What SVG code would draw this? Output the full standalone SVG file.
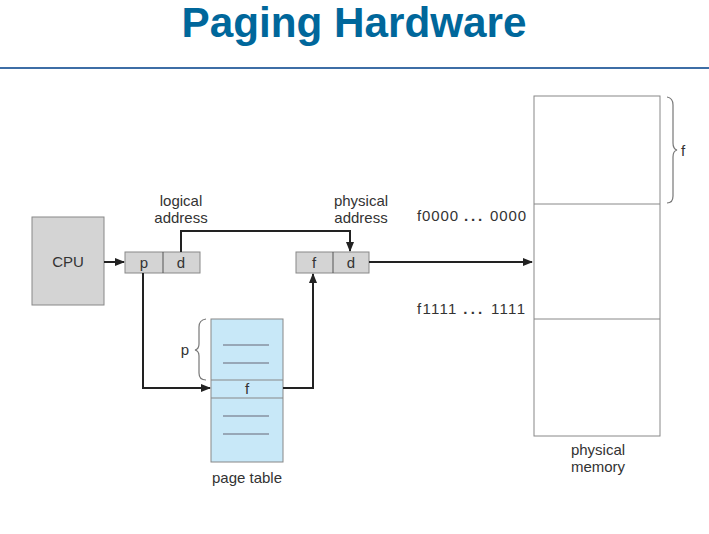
<svg xmlns="http://www.w3.org/2000/svg" width="709" height="534" viewBox="0 0 709 534">
<style>
.t{font-family:"Liberation Sans",Arial,sans-serif;font-size:15px;fill:#333;}
.c{text-anchor:middle;}
.r{text-anchor:end;}
.dots{font-weight:bold;letter-spacing:2px;}
.box{fill:#d4d4d4;stroke:#888;stroke-width:1;}
.pt{fill:#c8e8f8;stroke:#888;stroke-width:1;}
.mem{fill:#fff;stroke:#888;stroke-width:1;}
.conn{fill:none;stroke:#222;stroke-width:2;}
.thin{fill:none;stroke:#555;stroke-width:1;}
.brace{fill:none;stroke:#777;stroke-width:1.2;}
</style>
<defs>
<marker id="ah" markerWidth="10" markerHeight="8" refX="9" refY="4" orient="auto" markerUnits="userSpaceOnUse">
<path d="M0,0 L10,4 L0,8 Z" fill="#222"/>
</marker>
</defs>
<rect width="709" height="534" fill="#fff"/>
<g id="title">
<text x="354" y="37" text-anchor="middle" textLength="345" lengthAdjust="spacingAndGlyphs" style="font-family:'Liberation Sans',Arial,sans-serif;font-weight:bold;font-size:42px;fill:#00679b;">Paging Hardware</text>
<line x1="0" y1="68" x2="709" y2="68" stroke="#3d6ea6" stroke-width="2"/>
</g>
<g id="cpu">
<rect class="box" x="32" y="217" width="72" height="88"/>
<text class="t c" x="68" y="267">CPU</text>
</g>
<g id="logical-address">
<rect class="box" x="125" y="252" width="75" height="21"/>
<line class="thin" x1="163" y1="252" x2="163" y2="273" stroke="#888"/>
<text class="t c" x="144" y="268">p</text>
<text class="t c" x="181" y="268">d</text>
<text class="t c" x="181" y="206">logical</text>
<text class="t c" x="181" y="223">address</text>
</g>
<g id="physical-address">
<rect class="box" x="296" y="252" width="73" height="21"/>
<line class="thin" x1="333" y1="252" x2="333" y2="273" stroke="#888"/>
<text class="t c" x="314" y="268">f</text>
<text class="t c" x="351" y="268">d</text>
<text class="t c" x="361" y="206">physical</text>
<text class="t c" x="361" y="223">address</text>
</g>
<g id="page-table">
<rect class="pt" x="211" y="319" width="72" height="143"/>
<line x1="211" y1="380" x2="283" y2="380" stroke="#888"/>
<line x1="211" y1="398" x2="283" y2="398" stroke="#888"/>
<line x1="223" y1="345" x2="269" y2="345" stroke="#667"/>
<line x1="223" y1="363" x2="269" y2="363" stroke="#667"/>
<line x1="223" y1="416" x2="269" y2="416" stroke="#667"/>
<line x1="223" y1="434" x2="269" y2="434" stroke="#667"/>
<text class="t c" x="247" y="394">f</text>
<path class="brace" d="M206,319 Q199,320 199,327 L199,344 Q199,349 195,350 Q199,351 199,356 L199,373 Q199,380 206,380"/>
<text class="t c" x="185" y="355">p</text>
<text class="t c" x="247" y="483">page table</text>
</g>
<g id="physical-memory">
<rect class="mem" x="534" y="96" width="126" height="340"/>
<line x1="534" y1="204" x2="660" y2="204" stroke="#888"/>
<line x1="534" y1="319" x2="660" y2="319" stroke="#888"/>
<path class="brace" d="M667,97 Q673,98 673,105 L673,143 Q673,149 677,150 Q673,151 673,157 L673,196 Q673,203 667,203"/>
<text class="t" x="681" y="156">f</text>
<text class="t" x="417" y="221" textLength="109" lengthAdjust="spacing">f0000 <tspan class="dots">...</tspan> 0000</text>
<text class="t" x="417" y="314" textLength="108" lengthAdjust="spacing">f1111 <tspan class="dots">...</tspan> 1111</text>
<text class="t c" x="598" y="455">physical</text>
<text class="t c" x="598" y="472">memory</text>
</g>
<g id="connectors">
<line class="conn" x1="104" y1="262" x2="124" y2="262" marker-end="url(#ah)"/>
<polyline class="conn" points="181,252 181,231 350,231 350,251" marker-end="url(#ah)"/>
<line class="conn" x1="369" y1="262" x2="532" y2="262" marker-end="url(#ah)"/>
<polyline class="conn" points="143,273 143,388 210,388" marker-end="url(#ah)"/>
<polyline class="conn" points="283,388 313,388 313,274" marker-end="url(#ah)"/>
</g>
</svg>
